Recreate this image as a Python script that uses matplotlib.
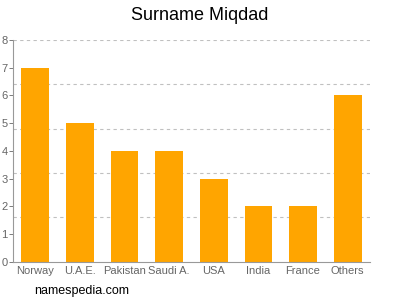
import matplotlib.pyplot as plt
import numpy as np

plt.rcParams['font.family'] = ['Liberation Sans', 'DejaVu Sans']

countries = ["Norway", "U.A.E.", "Pakistan", "Saudi A.", "USA", "India", "France", "Others"]
counts = [7, 5, 4, 4, 3, 2, 2, 6]
yticks = [0, 1, 2, 3, 4, 5, 6, 7, 8]
grid_levels = [1.6, 3.2, 4.8, 6.4, 8]

fig = plt.figure(figsize=(4, 3), dpi=100)
ax = fig.add_axes([0.0325, 0.127, 0.8925, 0.74])

x = np.arange(len(countries))
ax.bar(x, counts, width=0.62, color="#FFA500", zorder=2)

for g in grid_levels:
    ax.axhline(g, color="#c0c0c0", lw=0.8, ls=(0, (3, 3)), zorder=1)

ax.set_xlim(-0.5, len(countries) - 0.5)
ax.set_ylim(0, 8)
ax.set_yticks(yticks)
ax.set_xticks(x)
ax.set_xticklabels(countries)
ax.tick_params(axis="both", colors="#666666", labelsize=8, length=3, width=0.6)
ax.tick_params(axis="x", length=0, pad=3)
ax.tick_params(axis="y", pad=1)

for s in ["top", "right"]:
    ax.spines[s].set_visible(False)
for s in ["left", "bottom"]:
    ax.spines[s].set_color("#999999")
    ax.spines[s].set_linewidth(0.8)

fig.text(0.5, 0.95, "Surname Miqdad", ha="center", va="center", fontsize=13)
fig.text(0.085, 0.03, "namespedia.com", ha="left", va="center", fontsize=9)

fig.savefig("out.png", dpi=100)
